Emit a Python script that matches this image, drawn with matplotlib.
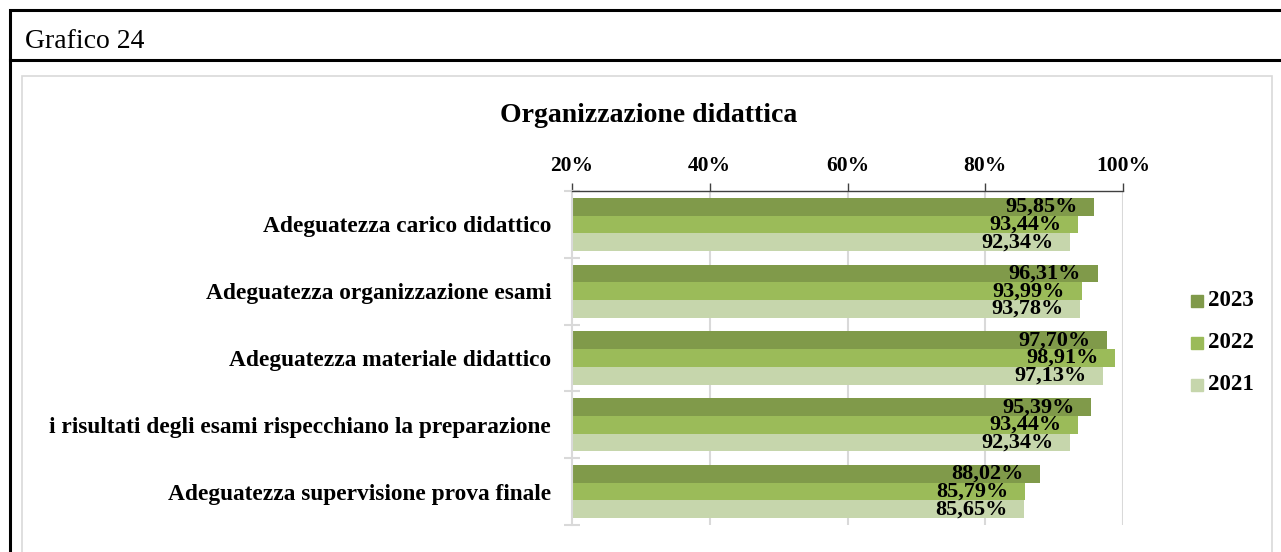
import matplotlib
matplotlib.use("Agg")
import matplotlib.pyplot as plt
from matplotlib.patches import Rectangle
from matplotlib.lines import Line2D
import numpy as np

categories = [
    "Adeguatezza carico didattico",
    "Adeguatezza organizzazione esami",
    "Adeguatezza materiale didattico",
    "i risultati degli esami rispecchiano la preparazione",
    "Adeguatezza supervisione prova finale",
]
years = ["2023", "2022", "2021"]
values_2023 = [95.85, 96.31, 97.70, 95.39, 88.02]
values_2022 = [93.44, 93.99, 98.91, 93.44, 85.79]
values_2021 = [92.34, 93.78, 97.13, 92.34, 85.65]
x_ticks = [20, 40, 60, 80, 100]

colors = ["#809A4A", "#9BBB59", "#C6D6AC"]
series = [values_2023, values_2022, values_2021]

W, H = 1281, 552
fig = plt.figure(figsize=(W / 100, H / 100), dpi=100)
plt.rcParams["font.family"] = ["Liberation Serif", "DejaVu Serif"]

def fx(px):
    return px / W

def fy(py):
    return 1 - py / H

# page frame: outer black box, header rule, inner chart border
fig.add_artist(Rectangle((fx(10), fy(600)), fx(1300), fy(10) - fy(600),
                         transform=fig.transFigure, fill=False,
                         edgecolor="black", linewidth=2.2))
fig.add_artist(Line2D([fx(10), fx(1300)], [fy(60), fy(60)],
                      transform=fig.transFigure, color="black", linewidth=2.2))
fig.add_artist(Rectangle((fx(22), fy(600)), fx(1272) - fx(22), fy(76) - fy(600),
                         transform=fig.transFigure, fill=False,
                         edgecolor="#D9D9D9", linewidth=1.2))
fig.text(fx(25), fy(42), "Grafico 24", fontsize=20, va="center", ha="left",
         color="black")

ax = fig.add_axes([fx(572), fy(525), fx(1123) - fx(572), fy(191) - fy(525)])

bar_h = 0.265
offsets = [-bar_h, 0, bar_h]
y = np.arange(len(categories))
for vals, off, col, yr in zip(series, offsets, colors, years):
    ax.barh(y + off, vals, height=bar_h, color=col, label=yr, left=0, zorder=2)
    for yi, v in zip(y, vals):
        ax.text(v - 2.4, yi + off, f"{v:.2f}%".replace(".", ","),
                ha="right", va="center", fontsize=16, fontweight="bold",
                color="black", zorder=3)

ax.set_xlim(20, 100)
ax.set_ylim(len(categories) - 0.5, -0.5)
ax.set_xticks(x_ticks)
ax.set_xticklabels([f"{t}%" for t in x_ticks], fontsize=15.5, fontweight="bold")
ax.xaxis.tick_top()
ax.tick_params(axis="x", direction="out", length=6, width=1, color="#404040",
               pad=5)
for t in x_ticks[1:]:
    ax.axvline(t, color="#D9D9D9", linewidth=1.5, zorder=1)

ax.set_yticks(np.arange(len(categories) + 1) - 0.5, minor=True)
ax.set_yticks(y)
ax.set_yticklabels(categories, fontsize=16.8, fontweight="bold")
ax.tick_params(axis="y", which="major", length=0, pad=15)
ax.tick_params(axis="y", which="minor", direction="inout", length=12,
               width=1.5, color="#D9D9D9")

for s in ["right", "bottom"]:
    ax.spines[s].set_visible(False)
ax.spines["top"].set_color("#404040")
ax.spines["top"].set_linewidth(1)
ax.spines["left"].set_color("#D9D9D9")
ax.spines["left"].set_linewidth(1.5)
ax.set_facecolor("none")

fig.text(fx(649), fy(115), "Organizzazione didattica", fontsize=20,
         fontweight="bold", ha="center", va="center")

# legend
for i, (yr, col) in enumerate(zip(years, colors)):
    ly = 301 + 42 * i
    fig.add_artist(Rectangle((fx(1191), fy(ly + 6)), fx(12), fy(ly - 6) - fy(ly + 6),
                             transform=fig.transFigure, color=col))
    fig.text(fx(1208), fy(ly), yr, fontsize=16.5, fontweight="bold",
             ha="left", va="center")

fig.savefig("out.png", dpi=100)
